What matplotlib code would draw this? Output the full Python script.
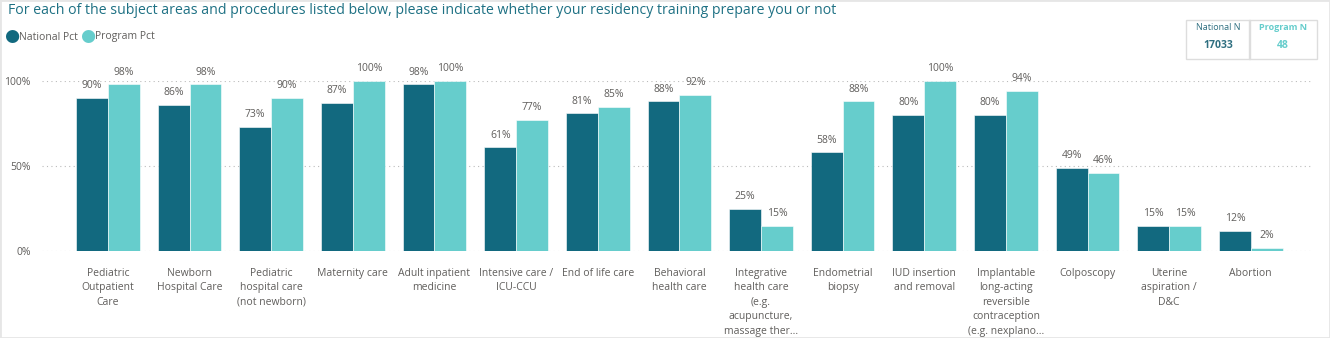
import numpy as np
import matplotlib.pyplot as plt
from matplotlib.patches import Rectangle

plt.rcParams['font.family'] = ['Open Sans', 'DejaVu Sans']

# data
categories = [
    "Pediatric\nOutpatient\nCare",
    "Newborn\nHospital Care",
    "Pediatric\nhospital care\n(not newborn)",
    "Maternity care",
    "Adult inpatient\nmedicine",
    "Intensive care /\nICU-CCU",
    "End of life care",
    "Behavioral\nhealth care",
    "Integrative\nhealth care\n(e.g.\nacupuncture,\nmassage ther...",
    "Endometrial\nbiopsy",
    "IUD insertion\nand removal",
    "Implantable\nlong-acting\nreversible\ncontraception\n(e.g. nexplano...",
    "Colposcopy",
    "Uterine\naspiration /\nD&C",
    "Abortion",
]
national_pct = [90, 86, 73, 87, 98, 61, 81, 88, 25, 58, 80, 80, 49, 15, 12]
program_pct = [98, 98, 90, 100, 100, 77, 85, 92, 15, 88, 100, 94, 46, 15, 2]
national_n = 17033
program_n = 48

dark = '#12697F'
light = '#66CDCC'
grey = '#605E5C'
title_col = '#1E7184'

W, H = 1330, 338
fig = plt.figure(figsize=(W / 100, H / 100), dpi=100)

# axes placed in pixel coords: x 42..1312, y 81..251 (from top)
ax = fig.add_axes([42 / W, (H - 251) / H, 1270 / W, 170 / H])
x = np.arange(len(categories))
bw = 0.39
b1 = ax.bar(x - bw / 2, national_pct, bw, color=dark, edgecolor='white', linewidth=0.4)
b2 = ax.bar(x + bw / 2, program_pct, bw, color=light, edgecolor='white', linewidth=0.4)

for bars, vals in ((b1, national_pct), (b2, program_pct)):
    for r, v in zip(bars, vals):
        ax.text(r.get_x() + r.get_width() / 2, v + 4, f"{v}%", ha='center', va='bottom',
                fontsize=7.5, color=grey, clip_on=False)

ax.set_xlim(-0.808, 14.75)
ax.set_ylim(0, 100)
ax.set_yticks([0, 50, 100])
ax.set_yticklabels(['0%', '50%', '100%'], fontsize=7.5, color=grey)
ax.tick_params(axis='y', length=0, pad=8)
ax.set_xticks(x)
ax.set_xticklabels(categories, fontsize=7.5, color=grey, linespacing=1.45, va='top')
ax.tick_params(axis='x', length=0, pad=12)
ax.yaxis.grid(True, linestyle=(0, (1, 3)), color='#BBBBBB', linewidth=0.8)
ax.set_axisbelow(True)
for s in ax.spines.values():
    s.set_visible(False)

# title
fig.text(8 / W, 1 - 11 / H, "For each of the subject areas and procedures listed below, please indicate whether your residency training prepare you or not",
         fontsize=10.2, color=title_col, va='center', ha='left')

# legend
for cx, lab, col in ((12, "National Pct", dark), (88, "Program Pct", light)):
    fig.text(cx / W, 1 - 37 / H, "\u25CF", color=col, fontsize=12.5, ha='center', va='center')
    fig.text((cx + 7) / W, 1 - 37 / H, lab, color=grey, fontsize=7.5, ha='left', va='center')

# N card
fig.patches.append(Rectangle((1186 / W, 1 - 59 / H), 131 / W, 39 / H, transform=fig.transFigure,
                             fill=False, edgecolor='#DDDDDD', linewidth=1))
fig.patches.append(Rectangle((1249 / W, 1 - 59 / H), 0.001, 39 / H, transform=fig.transFigure,
                             fill=False, edgecolor='#DDDDDD', linewidth=1))
fig.text(1218 / W, 1 - 27 / H, "National N", color='#2F6F80', fontsize=6.5, ha='center', va='center')
fig.text(1218 / W, 1 - 45 / H, str(national_n), color='#2F6F80', fontsize=7.5, ha='center', va='center',
         fontweight='bold')
fig.text(1283 / W, 1 - 27 / H, "Program N", color=light, fontsize=6.5, ha='center', va='center',
         fontweight='bold')
fig.text(1283 / W, 1 - 45 / H, str(program_n), color=light, fontsize=7.5, ha='center', va='center',
         fontweight='bold')

# outer border
fig.patches.append(Rectangle((0, 0), 1, 1, transform=fig.transFigure, fill=False,
                             edgecolor='#E6E6E6', linewidth=2))

fig.savefig('out.png', dpi=100)
